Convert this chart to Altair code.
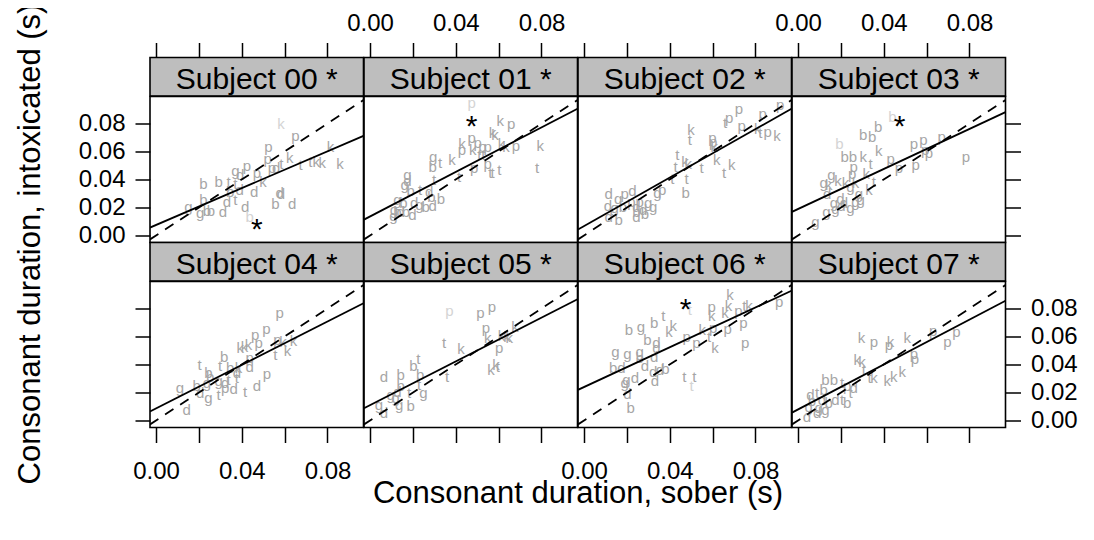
import altair as alt
import pandas as pd

FONT = "Liberation Sans"
XMIN, XMAX = -0.0028, 0.0968
YMIN, YMAX = -0.005, 0.0993
W, H, SH = 213.5, 146, 38.5
TICKS = [0.0, 0.02, 0.04, 0.06, 0.08]

SUBJECTS = ["Subject 00 *", "Subject 01 *", "Subject 02 *", "Subject 03 *",
            "Subject 04 *", "Subject 05 *", "Subject 06 *", "Subject 07 *"]
INTERCEPT = [0.0075, 0.0136, 0.0067, 0.0189, 0.0086, 0.0110, 0.0239, 0.0079]
SLOPE = [0.658, 0.795, 0.866, 0.715, 0.776, 0.781, 0.711, 0.802]

STAR_SUBJ = [0, 1, 3, 6]
STAR_X = [0.0471, 0.0474, 0.0474, 0.0474]
STAR_Y = [0.0098, 0.0829, 0.0829, 0.0843]

S00_LET = ["k","p","p","k","k","t","t","k","k","k","p","p","d","t","g","p","b","b","t","d",
           "p","k","t","d","b","d","b","d","d","g","t","d","b","d","d","g","b","b","d","b"]
S00_X = [0.0583,0.065,0.0525,0.0814,0.0624,0.0674,0.072,0.0747,0.0775,0.0858,
         0.0521,0.0541,0.0561,0.0585,0.037,0.0424,0.0221,0.0292,0.0338,0.0393,
         0.0471,0.0499,0.037,0.039,0.0346,0.0458,0.0221,0.0577,0.0583,0.0151,
         0.037,0.0331,0.0557,0.0635,0.0416,0.0206,0.0237,0.0256,0.0312,0.0437]
S00_Y = [0.080,0.071,0.0633,0.0629,0.0557,0.0502,0.0526,0.0526,0.0521,0.0514,
         0.0543,0.0479,0.0479,0.051,0.0462,0.0495,0.0367,0.0383,0.0383,0.0431,
         0.0443,0.0383,0.0371,0.0324,0.0312,0.0312,0.0257,0.0305,0.03,0.0205,
         0.0252,0.024,0.0224,0.0224,0.0205,0.0162,0.0176,0.0176,0.0169,0.0129]
S00_LIGHT = [0, 39]

S01_LET = ["p","k","p","k","k","p","k","p","p","k","p","p","t","t","k","k","p","k","g","t",
           "k","b","t","t","p","p","t","t","t","t","g","d","g","b","t","d","b","b","g","b",
           "d","g","d","b","g","b","d","b","d","g"]
S01_X = [0.0474,0.0608,0.0658,0.0572,0.0583,0.0474,0.0429,0.0502,0.0429,0.0479,
         0.0525,0.0549,0.0510,0.0529,0.0614,0.0634,0.0681,0.0794,0.0295,0.0327,
         0.0382,0.0292,0.0299,0.0416,0.0486,0.0549,0.0561,0.0572,0.0603,0.078,
         0.0175,0.0175,0.0162,0.019,0.0234,0.0276,0.0287,0.0331,0.0128,0.0156,
         0.0206,0.023,0.0292,0.026,0.0112,0.0128,0.0143,0.0167,0.0198,0.0109]
S01_Y = [0.0943,0.0819,0.0795,0.0733,0.0717,0.0693,0.0657,0.0662,0.061,0.061,
         0.0629,0.0629,0.0574,0.0574,0.0657,0.0629,0.0638,0.0638,0.0562,0.0519,
         0.0538,0.0486,0.04,0.0419,0.0479,0.051,0.0443,0.0443,0.0467,0.0479,
         0.0431,0.039,0.036,0.0319,0.0324,0.0312,0.0276,0.0264,0.0257,0.0229,
         0.0229,0.0217,0.021,0.0205,0.0181,0.0169,0.0169,0.0169,0.0145,0.0138]
S01_LIGHT = [0]

S02_LET = ["p","p","p","t","p","p","k","p","k","t","k","t","p","p","k","k","k","t","t","t",
           "t","k","k","t","t","b","p","g","d","d","p","g","d","g","b","p","d","g","g","d",
           "b","d","b","b","d","p"]
S02_X = [0.0723,0.0915,0.0677,0.0658,0.0736,0.0833,0.0811,0.0857,0.09,0.0822,
         0.0499,0.0494,0.0599,0.0603,0.0608,0.0619,0.0689,0.0653,0.0549,0.0435,
         0.0427,0.0471,0.0486,0.0479,0.0412,0.0474,0.0365,0.0343,0.0226,0.0115,
         0.019,0.0159,0.0112,0.0143,0.0182,0.026,0.0245,0.0299,0.0323,0.0276,
         0.0245,0.0245,0.0284,0.0162,0.0115,0.0221]
S02_Y = [0.0907,0.0931,0.0836,0.0805,0.0781,0.0867,0.0764,0.074,0.071,0.0733,
         0.0752,0.0681,0.0693,0.0669,0.0633,0.0538,0.0502,0.0448,0.0479,0.0574,
         0.049,0.0526,0.0514,0.0407,0.0407,0.0305,0.0324,0.0305,0.0319,0.03,
         0.03,0.0264,0.021,0.0193,0.0205,0.024,0.0205,0.0229,0.0205,0.0181,
         0.0169,0.0129,0.0152,0.011,0.0133,0.024]
S02_LIGHT = []

S03_LET = ["b","b","b","b","b","k","p","p","p","p","p","p","p","p","p","b","b","k","t","p",
           "k","t","g","p","g","k","k","k","k","g","d","k","g","d","g","d","g","g","g","g",
           "g","g","d"]
S03_X = [0.044,0.0374,0.0304,0.0346,0.0193,0.0377,0.0541,0.0585,0.067,0.0593,
         0.0611,0.0783,0.0432,0.0471,0.0549,0.0218,0.0256,0.0304,0.0338,0.026,
         0.0318,0.0354,0.0156,0.0253,0.012,0.0143,0.0187,0.0221,0.0268,0.0245,
         0.0136,0.0331,0.0284,0.0198,0.0167,0.0214,0.0268,0.0292,0.0133,0.0175,
         0.0245,0.0081,0.0203]
S03_Y = [0.0848,0.0776,0.0717,0.0705,0.0657,0.0605,0.0657,0.0681,0.0705,0.061,
         0.0586,0.0562,0.055,0.0479,0.0502,0.0562,0.0562,0.0562,0.0514,0.049,
         0.0438,0.0383,0.0431,0.0438,0.0376,0.036,0.039,0.0376,0.0376,0.0343,
         0.03,0.0324,0.03,0.0264,0.0229,0.0229,0.024,0.0252,0.0169,0.0186,
         0.0193,0.0098,0.021]
S03_LIGHT = [0, 4]

S04_LET = ["p","p","p","p","k","k","k","p","k","k","t","k","b","t","t","b","b","k","d","p",
           "d","b","g","d","t","p","d","t","d","p","g","b","d","g","t","d","g","t"]
S04_X = [0.0577,0.0515,0.0463,0.0479,0.0393,0.0413,0.0432,0.0567,0.0592,0.0642,
         0.0557,0.0614,0.0318,0.0203,0.0299,0.0346,0.0245,0.0385,0.0377,0.0437,
         0.0437,0.0253,0.0292,0.0323,0.0338,0.0518,0.0471,0.0416,0.0362,0.0323,
         0.0112,0.019,0.0206,0.0245,0.0292,0.0143,0.0237,0.0377]
S04_Y = [0.0771,0.0652,0.0612,0.0557,0.0517,0.0524,0.054,0.0576,0.0564,0.0571,
         0.0469,0.0493,0.0457,0.0398,0.0386,0.0374,0.0338,0.0374,0.0338,0.0445,
         0.0381,0.0314,0.0279,0.0267,0.0286,0.0333,0.0243,0.0207,0.0224,0.0231,
         0.0231,0.0243,0.02,0.016,0.0183,0.0076,0.0267,0.0302]
S04_LIGHT = []

S05_LET = ["p","p","p","p","k","k","k","k","k","p","t","k","k","t","k","t","t","b","b","b",
           "d","b","t","g","t","g","g","b","g","g","d","d"]
S05_X = [0.037,0.0515,0.0569,0.0541,0.0549,0.0614,0.0639,0.0677,0.065,0.0603,
         0.0346,0.0424,0.0564,0.0596,0.0588,0.0359,0.0225,0.0203,0.0143,0.0234,
         0.0065,0.0143,0.0229,0.0249,0.0182,0.0097,0.012,0.019,0.0042,0.0136,
         0.0065,0.0128]
S05_Y = [0.0779,0.0771,0.0814,0.066,0.0588,0.0605,0.06,0.0671,0.0588,0.0517,
         0.0557,0.051,0.0362,0.0381,0.0398,0.031,0.0438,0.039,0.0326,0.0326,
         0.031,0.0248,0.0255,0.0195,0.0195,0.0183,0.016,0.0105,0.0112,0.0112,
         0.0052,0.0207]
S05_LIGHT = [0]

S06_LET = ["k","t","p","k","p","t","k","p","k","k","p","t","b","g","b","k","k","p","p","k",
           "p","p","t","k","p","b","d","d","g","g","g","b","d","b","d","d","d","b","g","d",
           "g","d","t","t","t","d","b","d"]
S06_X = [0.0681,0.0494,0.0596,0.0674,0.072,0.0748,0.077,0.0911,0.0596,0.0658,
         0.0744,0.037,0.0327,0.0265,0.0209,0.0416,0.0396,0.0603,0.067,0.0552,
         0.0479,0.0525,0.0583,0.0611,0.0752,0.0296,0.0338,0.0338,0.0147,0.0203,
         0.026,0.026,0.0327,0.0136,0.0175,0.0284,0.0354,0.038,0.0198,0.0237,
         0.019,0.0331,0.0468,0.0515,0.0502,0.0203,0.0218,0.0323]
S06_Y = [0.0898,0.079,0.0814,0.0819,0.0779,0.0819,0.0819,0.0843,0.0748,0.0767,
         0.0695,0.0748,0.07,0.0671,0.0648,0.0676,0.0629,0.0662,0.0652,0.0648,
         0.06,0.0552,0.06,0.0517,0.0552,0.0574,0.0552,0.0517,0.0486,0.0476,
         0.0486,0.0445,0.0457,0.0374,0.0374,0.0386,0.0362,0.0367,0.029,0.0302,
         0.0271,0.0279,0.0314,0.0314,0.0243,0.019,0.0088,0.035]
S06_LIGHT = [1, 44]

S07_LET = ["k","p","k","p","k","p","p","p","p","p","k","k","t","t","k","k","k","k","b","b",
           "t","p","d","d","t","b","t","d","t","b","g","g","b","g","d","d","b","d"]
S07_X = [0.0296,0.0354,0.0432,0.0424,0.051,0.063,0.0697,0.0739,0.0541,0.0546,
         0.0276,0.0299,0.0307,0.0334,0.0354,0.0416,0.0447,0.0486,0.0128,0.0167,
         0.0206,0.0229,0.026,0.0058,0.0089,0.012,0.0245,0.0175,0.0206,0.0229,
         0.005,0.0097,0.0143,0.0128,0.0042,0.0089,0.0065,0.0112]
S07_Y = [0.0588,0.0564,0.0564,0.054,0.0588,0.0636,0.0564,0.0629,0.0476,0.0438,
         0.0433,0.0421,0.036,0.0302,0.0302,0.0279,0.0314,0.035,0.029,0.0286,
         0.0271,0.0243,0.0231,0.0183,0.0195,0.0219,0.02,0.0143,0.0143,0.0124,
         0.01,0.0088,0.0124,0.0076,0.0024,0.0052,0.0136,0.0148]
S07_LIGHT = []

LETTERS = [S00_LET, S01_LET, S02_LET, S03_LET, S04_LET, S05_LET, S06_LET, S07_LET]
XS = [S00_X, S01_X, S02_X, S03_X, S04_X, S05_X, S06_X, S07_X]
YS = [S00_Y, S01_Y, S02_Y, S03_Y, S04_Y, S05_Y, S06_Y, S07_Y]
LIGHTS = [S00_LIGHT, S01_LIGHT, S02_LIGHT, S03_LIGHT, S04_LIGHT, S05_LIGHT, S06_LIGHT, S07_LIGHT]

XSCALE = alt.Scale(domain=[XMIN, XMAX], nice=False, zero=False)
YSCALE = alt.Scale(domain=[YMIN, YMAX], nice=False, zero=False)
SPARSE = "indexof(['0.02','0.06'], format(datum.value, '.2f')) >= 0 ? '' : format(datum.value, '.2f')"


def make_axis(orient, labels, sparse=False, title=None, **extra):
    kw = dict(orient=orient, values=TICKS, domain=False, grid=False, ticks=True,
              tickSize=15, tickWidth=1.5, tickColor="black", labels=labels,
              labelFont=FONT, labelFontSize=24, labelColor="black", labelPadding=10,
              format=".2f", labelFlush=False, labelOverlap=False, title=title)
    if sparse:
        kw["labelExpr"] = SPARSE
    if title is not None:
        kw.update(titleFont=FONT, titleFontSize=31, titleFontWeight="normal",
                  titleColor="black")
    kw.update(extra)
    return alt.Axis(**kw)


def subject_df(i):
    light = set(LIGHTS[i])
    return pd.DataFrame({
        "x": XS[i], "y": YS[i], "letter": LETTERS[i],
        "shade": ["l" if k in light else "d" for k in range(len(LETTERS[i]))],
    })


def strip(i, r, c):
    xa = make_axis("top", labels=(c in (1, 3)), sparse=True, labelPadding=7) if r == 0 else None
    base = alt.Chart(subject_df(i)).mark_point(opacity=0).encode(
        x=alt.X("x:Q", scale=XSCALE, axis=xa))
    lab = alt.Chart(pd.DataFrame({"label": [SUBJECTS[i]]})).mark_text(
        font=FONT, fontSize=30, baseline="alphabetic", align="center", color="black"
    ).encode(x=alt.value(W / 2), y=alt.value(31), text="label:N")
    return alt.layer(base, lab).properties(
        width=W, height=SH,
        view=alt.ViewBackground(fill="#bebebe", stroke="black", strokeWidth=1.6))


def panel(i, r, c):
    xa = None
    ya = None
    if r == 1:
        if c == 1:
            xa = make_axis("bottom", labels=False, sparse=True,
                           title="Consonant duration, sober (s)",
                           titleX=W, titleY=75, titleAlign="center",
                           titleBaseline="alphabetic", titleAngle=0)
        else:
            xa = make_axis("bottom", labels=(c in (0, 2)), sparse=True, labelPadding=17)
    if c == 0:
        if r == 0:
            ya = make_axis("left", labels=True,
                           title="Consonant duration, intoxicated (s)",
                           titleX=-111, titleY=147, titleAlign="center",
                           titleBaseline="alphabetic", titleAngle=270)
        else:
            ya = make_axis("left", labels=False)
    if c == 3:
        ya = make_axis("right", labels=(r == 1))
    X = alt.X("x:Q", scale=XSCALE, axis=xa)
    Y = alt.Y("y:Q", scale=YSCALE, axis=ya)

    pts = alt.Chart(subject_df(i)).mark_text(
        font=FONT, fontSize=15, baseline="middle", align="center", clip=True
    ).encode(x=X, y=Y, text="letter:N",
             color=alt.Color("shade:N", scale=alt.Scale(domain=["d", "l"],
                             range=["#a6a6a6", "#d4d4d4"]), legend=None))
    ends = [XMIN, XMAX]
    ref = alt.Chart(pd.DataFrame({"x": ends, "y": ends})).mark_line(
        color="black", strokeWidth=1.8, strokeDash=[10, 8], clip=True
    ).encode(x=X, y=Y)
    fit = alt.Chart(pd.DataFrame({"x": ends,
                                  "y": [INTERCEPT[i] + SLOPE[i] * e for e in ends]})
                    ).mark_line(color="black", strokeWidth=1.8, clip=True).encode(x=X, y=Y)
    layers = [pts, ref, fit]
    if i in STAR_SUBJ:
        k = STAR_SUBJ.index(i)
        star = alt.Chart(pd.DataFrame({"x": [STAR_X[k]], "y": [STAR_Y[k]], "s": ["*"]})
                         ).mark_text(font=FONT, fontSize=30, color="black",
                                     baseline="middle", dy=8, clip=True
                                     ).encode(x=X, y=Y, text="s:N")
        layers.append(star)
    return alt.layer(*layers).properties(width=W, height=H)


cells = []
for r in range(2):
    for c in range(4):
        cells.append(strip(r * 4 + c, r, c))
    for c in range(4):
        cells.append(panel(r * 4 + c, r, c))

chart = alt.concat(*cells, columns=4, spacing=0, bounds="flush").properties(
    padding={"left": 5, "top": -6.5, "right": 5, "bottom": 5}
).configure(
    font=FONT,
    view=alt.ViewConfig(stroke="black", strokeWidth=1.6),
)

chart.save("out.html", embed_options={"renderer": "svg", "actions": False})
